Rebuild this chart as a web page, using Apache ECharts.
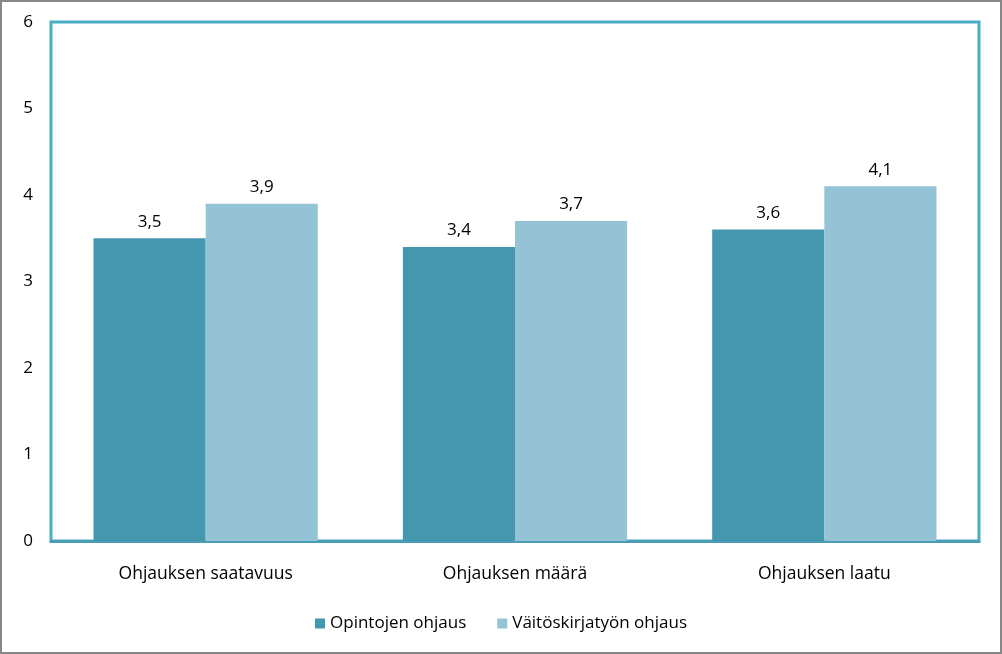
<!DOCTYPE html>
<html><head><meta charset="utf-8">
<script src="https://cdn.jsdelivr.net/npm/echarts@6/dist/echarts.min.js"></script>
<style>html,body{margin:0;padding:0;background:#fff}#c{width:1002px;height:654px}</style>
</head><body><div id="c"></div>
<script>
var categories = ["Ohjauksen saatavuus", "Ohjauksen määrä", "Ohjauksen laatu"];
var seriesNames = ["Opintojen ohjaus", "Väitöskirjatyön ohjaus"];
var opintojen = [3.5, 3.4, 3.6];
var vaitoskirja = [3.9, 3.7, 4.1];
var yTicks = [0, 1, 2, 3, 4, 5, 6];

var FONT = "Open Sans";
var chart = echarts.init(document.getElementById('c'));
function lbl(p){ return String(p.value).replace('.', ','); }
chart.setOption({
  animation: false,
  textStyle: {fontFamily: FONT},
  graphic: [{type:'rect', shape:{x:1,y:1,width:1000,height:652}, style:{fill:'none', stroke:'#878787', lineWidth:2}, silent:true}],
  grid: {left: 51, right: 23, top: 22, bottom: 113, show: true, borderColor: '#4BACC6', borderWidth: 3, backgroundColor:'#fff'},
  legend: {
    bottom: 17, left: 'center', itemWidth: 10, itemHeight: 10, itemGap: 31,
    textStyle: {fontSize: 17, color: '#000', fontFamily: FONT},
    data: seriesNames.map(function(n){return {name:n, icon:'rect'};})
  },
  xAxis: {
    type: 'category', data: categories,
    axisLine: {show: true, lineStyle: {color: '#4A9DB3', width: 3}},
    axisTick: {show: false},
    axisLabel: {color: '#000', fontSize: 17.5, margin: 24, fontFamily: FONT}
  },
  yAxis: {
    type: 'value', min: yTicks[0], max: yTicks[yTicks.length-1], interval: 1,
    axisLine: {show: false}, axisTick: {show: false}, splitLine: {show: false},
    axisLabel: {color: '#000', fontSize: 17, margin: 18, fontFamily: FONT}
  },
  series: [
    {name: seriesNames[0], type: 'bar', data: opintojen, barGap: '0%', barCategoryGap: '27.5%',
     itemStyle: {color: '#4397AE'},
     label: {show: true, position: 'top', distance: 8, color: '#000', fontSize: 17, formatter: lbl, fontFamily: FONT}},
    {name: seriesNames[1], type: 'bar', data: vaitoskirja, barGap: '0%', barCategoryGap: '27.5%',
     itemStyle: {color: '#93C3D5'},
     label: {show: true, position: 'top', distance: 8, color: '#000', fontSize: 17, formatter: lbl, fontFamily: FONT}}
  ]
});
</script></body></html>
